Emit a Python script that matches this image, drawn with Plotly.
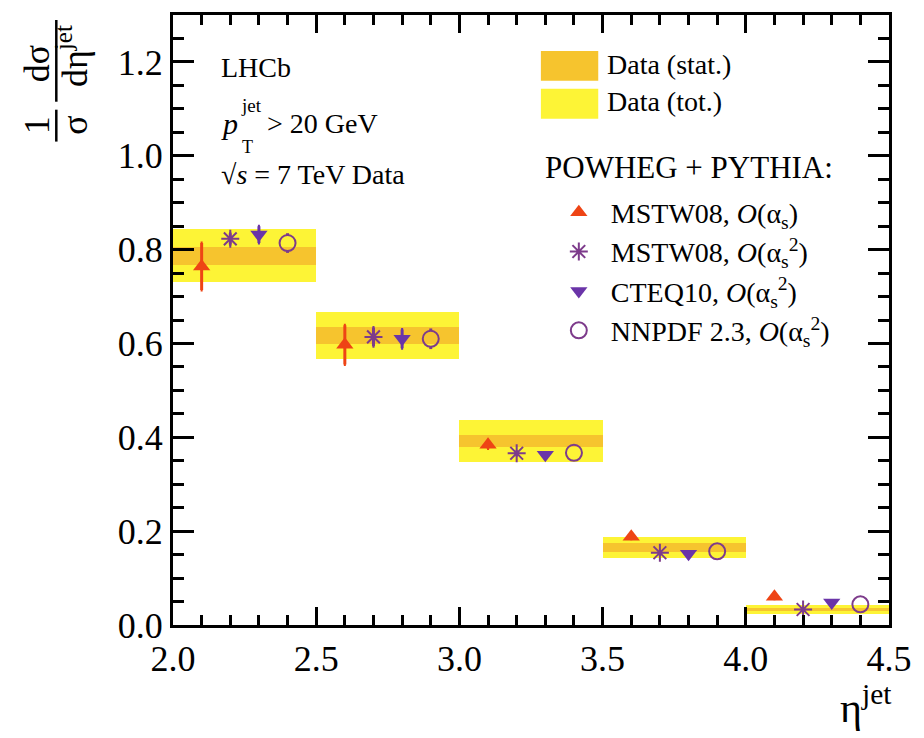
import plotly.graph_objects as go

# ---------------- data ----------------
bin_lo = [2.0, 2.5, 3.0, 3.5, 4.0]
bin_hi = [2.5, 3.0, 3.5, 4.0, 4.5]
data_val = [0.787, 0.617, 0.392, 0.165, 0.033]
data_stat = [0.019, 0.018, 0.013, 0.009, 0.004]
data_tot = [0.056, 0.050, 0.044, 0.023, 0.009]

x_mstw_as = [2.1, 2.6, 3.1, 3.6, 4.1]
y_mstw_as = [0.764, 0.597, 0.384, 0.188, 0.060]
e_mstw_as = [0.050, 0.042, 0.008, 0.004, 0.004]

x_mstw_as2 = [2.2, 2.7, 3.2, 3.7, 4.2]
y_mstw_as2 = [0.823, 0.614, 0.366, 0.154, 0.033]
e_mstw_as2 = [0.012, 0.020, 0.004, 0.003, 0.003]

x_cteq = [2.3, 2.8, 3.3, 3.8, 4.3]
y_cteq = [0.832, 0.610, 0.363, 0.152, 0.048]
e_cteq = [0.018, 0.020, 0.004, 0.003, 0.003]

x_nnpdf = [2.4, 2.9, 3.4, 3.9, 4.4]
y_nnpdf = [0.814, 0.610, 0.367, 0.157, 0.044]
e_nnpdf = [0.019, 0.020, 0.004, 0.003, 0.003]

x_ticks = [2.0, 2.5, 3.0, 3.5, 4.0, 4.5]
y_ticks = [0.0, 0.2, 0.4, 0.6, 0.8, 1.0, 1.2]

# ---------------- styles ----------------
FONT = "Liberation Serif"
C_TOT = "#FDF436"
C_STAT = "#F6C42E"
C_RED = "#EE4415"
C_PURP = "#7D3B8B"
C_VIOL = "#6A34A8"

L, R, T, B = 173, 27, 13, 113
W, H = 924, 738
PW, PH = W - L - R, H - T - B
Y_RANGE = [0.0, 1.3]

def px(x):
    return (x - L) / PW

def py(y):
    return (H - B - y) / PH

centers = [(a + b) / 2 for a, b in zip(bin_lo, bin_hi)]
widths = [b - a for a, b in zip(bin_lo, bin_hi)]

fig = go.Figure()

fig.add_trace(go.Bar(
    x=centers, width=widths,
    base=[v - t for v, t in zip(data_val, data_tot)],
    y=[2 * t for t in data_tot],
    marker=dict(color=C_TOT, line=dict(width=0)),
    showlegend=False, name="Data (tot.)"))
fig.add_trace(go.Bar(
    x=centers, width=widths,
    base=[v - s for v, s in zip(data_val, data_stat)],
    y=[2 * s for s in data_stat],
    marker=dict(color=C_STAT, line=dict(width=0)),
    showlegend=False, name="Data (stat.)"))

def model(x, y, e, name, symbol, color, size, lw=0, err=True):
    fig.add_trace(go.Scatter(
        x=x, y=y, mode="markers", name=name,
        marker=dict(symbol=symbol, size=size, color=color,
                    line=dict(width=lw, color=color)),
        error_y=(dict(type="data", array=e, color=color, thickness=3, width=1)
                 if err else dict(visible=False)),
    ))

model(x_mstw_as, y_mstw_as, e_mstw_as,
      "MSTW08, <i>O</i>(α<sub>s</sub>)", "triangle-up", C_RED, 15)
model(x_mstw_as2, y_mstw_as2, e_mstw_as2,
      "MSTW08, <i>O</i>(α<sub>s</sub><sup>2</sup>)", "asterisk-open", C_PURP, 15, 2)
model(x_cteq, y_cteq, e_cteq,
      "CTEQ10, <i>O</i>(α<sub>s</sub><sup>2</sup>)", "triangle-down", C_VIOL, 15)

# open circles: error bars drawn only outside the marker (ROOT style)
CIRC_SIZE = 16
r_data = (CIRC_SIZE / 2) * (Y_RANGE[1] - Y_RANGE[0]) / PH
seg_x, seg_y = [], []
for xv, yv, ev in zip(x_nnpdf, y_nnpdf, e_nnpdf):
    if ev > r_data:
        seg_x += [xv, xv, None, xv, xv, None]
        seg_y += [yv + r_data, yv + ev + 0.002, None, yv - r_data, yv - ev - 0.002, None]
fig.add_trace(go.Scatter(x=seg_x, y=seg_y, mode="lines",
                         line=dict(color=C_PURP, width=3),
                         showlegend=False, hoverinfo="skip"))
model(x_nnpdf, y_nnpdf, e_nnpdf,
      "NNPDF 2.3, <i>O</i>(α<sub>s</sub><sup>2</sup>)", "circle-open", C_PURP,
      CIRC_SIZE, 2, err=False)

axis_common = dict(
    showline=True, linewidth=3, linecolor="black", mirror="ticks",
    ticks="inside", tickwidth=3, tickcolor="black",
    showgrid=False, zeroline=False,
    tickfont=dict(family=FONT, size=36, color="black"),
)

fig.update_xaxes(range=[2.0, 4.5], tickvals=x_ticks, tickformat=".1f",
                 ticklen=18, minor=dict(dtick=0.1, ticklen=10, tickwidth=3,
                                        tickcolor="black", ticks="inside"),
                 **axis_common)
fig.update_yaxes(range=Y_RANGE, tickvals=y_ticks, tickformat=".1f",
                 ticklen=21, minor=dict(dtick=0.05, ticklen=11, tickwidth=3,
                                        tickcolor="black", ticks="inside"),
                 **axis_common)

ann = []
def text(x, y, t, size, xanchor="left", angle=0, color="black"):
    ann.append(dict(x=px(x), y=py(y), xref="paper", yref="paper", text=t,
                    showarrow=False, xanchor=xanchor, yanchor="middle",
                    textangle=angle,
                    font=dict(family=FONT, size=size, color=color)))

# info text
text(220, 66, "LHCb", 28)
text(220, 122, "<i>p</i>", 30)
text(240, 104, "jet", 19)
text(241, 145, "T", 18)
text(266, 122, "> 20 GeV", 28)
text(220, 173, "√<i>s</i> = 7 TeV Data", 28)

# legend for bands
text(610, 63, "Data (stat.)", 28)
text(610, 100, "Data (tot.)", 28)
text(547, 166, "POWHEG + PYTHIA:", 31)

# y-axis title
text(35, 124, "1", 36, "center", -90)
text(74, 124, "σ", 36, "center", -90)
text(35, 62, "dσ", 36, "center", -90)
text(72, 54, "dη<sup>jet</sup>", 36, "center", -90)

# x-axis title
text(873, 705, "η<sup>jet</sup>", 42, "center")

shapes = [
    dict(type="rect", xref="paper", yref="paper", x0=px(545), x1=px(603),
         y0=py(79), y1=py(49), fillcolor=C_STAT, line=dict(width=0)),
    dict(type="rect", xref="paper", yref="paper", x0=px(545), x1=px(603),
         y0=py(117), y1=py(87), fillcolor=C_TOT, line=dict(width=0)),
    dict(type="line", xref="paper", yref="paper", x0=px(55), x1=px(55),
         y0=py(108), y1=py(140), line=dict(width=2.5, color="black")),
    dict(type="line", xref="paper", yref="paper", x0=px(55), x1=px(55),
         y0=py(18), y1=py(100), line=dict(width=2.5, color="black")),
]

fig.update_layout(
    width=W, height=H,
    margin=dict(l=L, r=R, t=T, b=B, pad=0),
    paper_bgcolor="white", plot_bgcolor="white",
    barmode="overlay", bargap=0,
    annotations=ann, shapes=shapes,
    font=dict(family=FONT, color="black"),
    legend=dict(x=px(551), y=py(186), xanchor="left", yanchor="top",
                bgcolor="rgba(0,0,0,0)",
                font=dict(family=FONT, size=28), tracegroupgap=0,
                itemwidth=54),
)

fig.write_html("out.html")
